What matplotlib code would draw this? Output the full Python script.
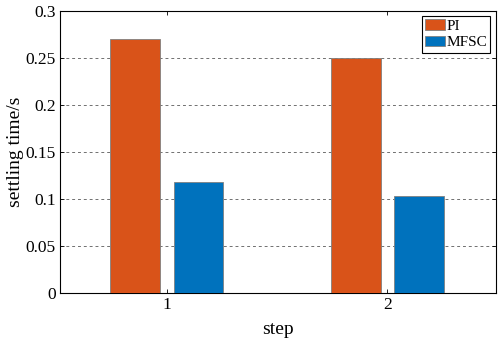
import matplotlib
matplotlib.use("Agg")
import matplotlib.pyplot as plt
import numpy as np

steps = [1, 2]
step_labels = ["1", "2"]
pi_vals = [0.27, 0.25]
mfsc_vals = [0.118, 0.103]
yticks = [0, 0.05, 0.1, 0.15, 0.2, 0.25, 0.3]
ytick_labels = ["0", "0.05", "0.1", "0.15", "0.2", "0.25", "0.3"]

plt.rcParams['font.family'] = ['Liberation Serif', 'DejaVu Serif']

fig = plt.figure(figsize=(5, 3.46), dpi=100)
ax = fig.add_axes([0.12, 0.153, 0.871, 0.815])

x = np.array(steps)
w = 0.226
off = 0.143
ax.bar(x - off, pi_vals, w, color='#D95319', edgecolor='#808080', linewidth=0.6, label='PI', zorder=3)
ax.bar(x + off, mfsc_vals, w, color='#0072BD', edgecolor='#808080', linewidth=0.6, label='MFSC', zorder=3)

ax.set_xlim(0.515, 2.49)
ax.set_ylim(0, 0.3)
ax.set_xticks(steps)
ax.set_xticklabels(step_labels)
ax.set_yticks(yticks)
ax.set_yticklabels(ytick_labels)
ax.yaxis.grid(True, linestyle=(0, (3, 3)), color='#707070', linewidth=0.7)
ax.set_axisbelow(True)
ax.tick_params(direction='in', top=True, right=True, length=3, width=0.6,
               labelsize=12.5, pad=3)
for s in ax.spines.values():
    s.set_linewidth(0.8)

ax.set_xlabel('step', fontsize=14)
ax.xaxis.set_label_coords(0.5, -0.1)
ax.set_ylabel('settling time/s', fontsize=14)
ax.yaxis.set_label_coords(-0.083, 0.5)

leg = ax.legend(loc='upper right', fontsize=11, fancybox=False, framealpha=1,
                edgecolor='black', borderpad=0.2, handlelength=1.3, handleheight=0.65,
                handletextpad=0.1, labelspacing=0.2, borderaxespad=0.35)
leg.get_frame().set_linewidth(0.8)

fig.savefig('out.png', dpi=100)
